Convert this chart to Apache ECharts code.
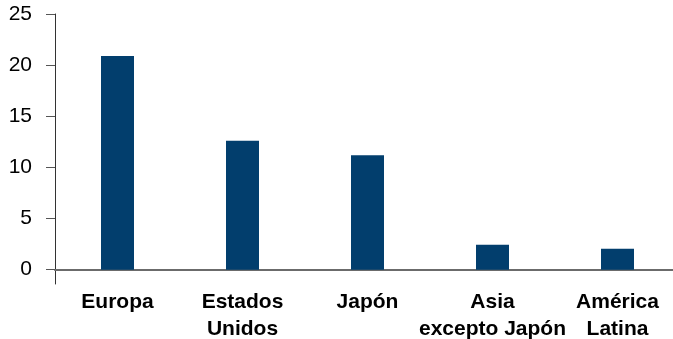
<!DOCTYPE html>
<html>
<head>
<meta charset="utf-8">
<script src="https://cdn.jsdelivr.net/npm/echarts@6/dist/echarts.min.js"></script>
<style>
html,body{margin:0;padding:0;background:#fff;}
#chart{width:673px;height:339px;}
</style>
</head>
<body>
<div id="chart"></div>
<script>
var categories = ['Europa', 'Estados\nUnidos', 'Japón', 'Asia\nexcepto Japón', 'América\nLatina'];
var values = [20.9, 12.6, 11.2, 2.45, 2.05];
var yTicks = [0, 5, 10, 15, 20, 25];

var FONT = '"Liberation Sans", Arial, Helvetica, sans-serif';
var chart = echarts.init(document.getElementById('chart'), null, {renderer: 'canvas'});
chart.setOption({
  animation: false,
  backgroundColor: '#ffffff',
  grid: {left: 55, top: 14, width: 625, bottom: 55, containLabel: false, outerBoundsMode: 'none'},
  xAxis: {
    type: 'category',
    data: categories,
    boundaryGap: true,
    axisLine: {onZero: true, lineStyle: {color: '#6b6b6b', width: 2}},
    axisTick: {show: false},
    axisLabel: {
      interval: 0,
      margin: 5,
      color: '#000',
      fontFamily: FONT,
      fontWeight: 'bold',
      fontSize: 21,
      lineHeight: 27,
      align: 'center',
      verticalAlign: 'top',
      hideOverlap: false
    },
    splitLine: {show: false}
  },
  yAxis: {
    type: 'value',
    min: -1.4,
    max: 25,
    axisLine: {show: true, lineStyle: {color: '#333', width: 1}},
    axisTick: {show: true, length: 9, lineStyle: {color: '#555'}, customValues: yTicks},
    axisLabel: {
      customValues: yTicks,
      margin: 23,
      color: '#000',
      fontFamily: FONT,
      fontSize: 21
    },
    splitLine: {show: false}
  },
  series: [{
    type: 'bar',
    data: values,
    barWidth: 33,
    itemStyle: {color: '#023e6d'}
  }]
});
</script>
</body>
</html>
